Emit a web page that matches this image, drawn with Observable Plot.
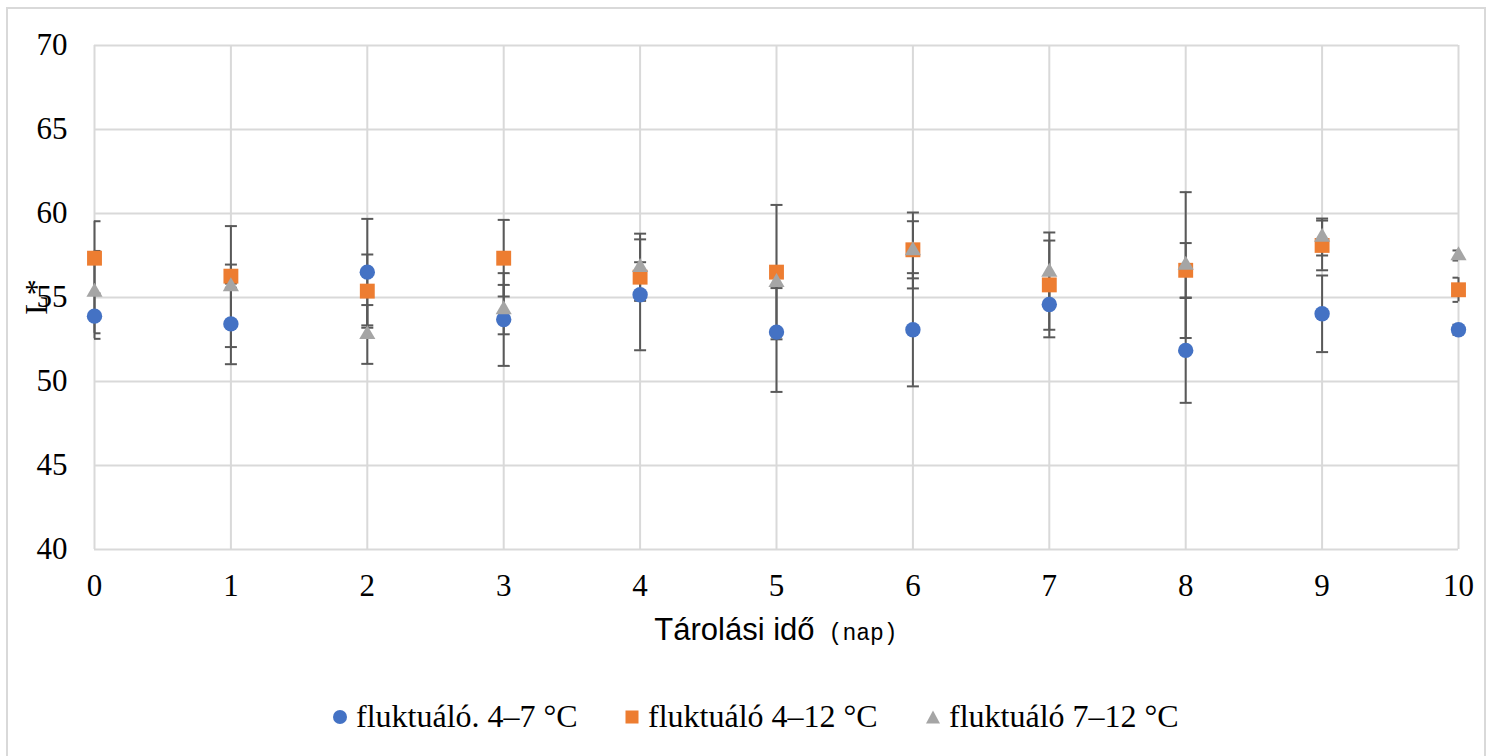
<!DOCTYPE html>
<html>
<head>
<meta charset="utf-8">
<script src="https://cdn.jsdelivr.net/npm/d3@7"></script>
<script src="https://cdn.jsdelivr.net/npm/@observablehq/plot@0.6"></script>
<style>
  html, body { margin: 0; padding: 0; background: #fff; }
  #wrap { position: relative; width: 1491px; height: 756px; overflow: hidden; }
  #border { position: absolute; left: 6px; top: 7px; width: 1480px; height: 760px; border: 2px solid #d9d9d9; box-sizing: border-box; }
  #chart { position: absolute; left: 0; top: 0; }
  #ylab { position: absolute; left: -14px; top: 279px; width: 100px; height: 36px; line-height: 36px; text-align: center;
          font-family: "Liberation Serif", serif; font-size: 32px; color: #000; transform: rotate(-90deg); }
  #xlab { position: absolute; left: 94px; width: 1364px; top: 612px; height: 36px; line-height: 36px; text-align: center;
          font-family: "Liberation Sans", Arial, sans-serif; font-size: 31px; color: #000; white-space: pre; }
  #xlab .unit { font-family: "Liberation Mono", "Courier New", monospace; font-size: 23px; margin-left: 14px; }
  .leg { position: absolute; top: 698px; height: 36px; line-height: 36px; font-family: "Liberation Serif", serif;
         font-size: 32px; color: #000; white-space: nowrap; }
</style>
</head>
<body>
<div id="wrap">
  <div id="border"></div>
  <div id="chart"></div>
  <div id="ylab"></div>
  <div id="xlab"></div>
  <div id="legend"></div>
</div>
<script>
// ---- data ----
const days = [0, 1, 2, 3, 4, 5, 6, 7, 8, 9, 10];
const seriesNames = ["fluktuáló. 4–7 °C", "fluktuáló 4–12 °C", "fluktuáló 7–12 °C"];
const seriesColors = ["#4472C4", "#ED7D31", "#A5A5A5"];
const seriesSymbols = ["circle", "square", "triangle"];

const valuesA = [53.89, 53.43, 56.51, 53.69, 55.16, 52.94, 53.08, 54.58, 51.85, 54.03, 53.08];
const errorsA = [1.35, 2.40, 3.17, 2.76, 3.30, 3.56, 3.37, 1.50, 3.12, 2.28, 0.30];

const valuesB = [57.34, 56.27, 55.38, 57.34, 56.21, 56.51, 57.84, 55.75, 56.62, 58.10, 55.46];
const errorsB = [2.20, 0.69, 2.18, 2.28, 0.89, 4.00, 1.70, 3.12, 1.62, 1.48, 0.72];

const valuesC = [55.32, 55.65, 52.80, 54.28, 56.80, 55.91, 57.80, 56.51, 56.93, 58.60, 57.50];
const errorsC = [2.45, 3.60, 1.75, 1.47, 2.00, 0.35, 2.26, 1.88, 4.34, 1.10, 0.30];

const yTicks = [40, 45, 50, 55, 60, 65, 70];
const xTicks = [0, 1, 2, 3, 4, 5, 6, 7, 8, 9, 10];
const yLabel = "L*";
const xTitle = "Tárolási idő";
const xUnit = "(nap)";

// ---- build table ----
const allValues = [valuesA, valuesB, valuesC];
const allErrors = [errorsA, errorsB, errorsC];
const rows = [];
allValues.forEach((vals, s) => {
  days.forEach((d, i) => rows.push({ series: s, day: d, v: vals[i], lo: vals[i] - allErrors[s][i], hi: vals[i] + allErrors[s][i] }));
});
const capRows = rows.flatMap(r => [{ day: r.day, y: r.lo }, { day: r.day, y: r.hi }]);

const capSymbol = { draw(ctx) { ctx.moveTo(-6, 0); ctx.lineTo(6, 0); } };

const markerR = { circle: 7.7, square: 8.4, triangle: 6.0 };

const marks = [
  Plot.gridY(yTicks, { stroke: "#d9d9d9", strokeOpacity: 1, strokeWidth: 2 }),
  Plot.gridX(xTicks, { stroke: "#d9d9d9", strokeOpacity: 1, strokeWidth: 2 }),
  Plot.axisY({ ticks: yTicks, tickSize: 0, tickPadding: 27, label: null, fontSize: 31 }),
  Plot.axisX({ ticks: xTicks, tickSize: 0, tickPadding: 24, label: null, fontSize: 31, tickFormat: d => String(d) }),
  Plot.ruleX(rows, { x: "day", y1: "lo", y2: "hi", stroke: "#595959", strokeWidth: 2 }),
  Plot.dot(capRows, { x: "day", y: "y", symbol: capSymbol, r: 6, stroke: "#595959", strokeWidth: 2, fill: "none", clip: true })
];
seriesSymbols.forEach((sym, s) => {
  marks.push(Plot.dot(rows.filter(r => r.series === s), {
    x: "day", y: "v", symbol: sym, r: markerR[sym], fill: seriesColors[s], stroke: "none"
  }));
});

const chart = Plot.plot({
  width: 1491,
  height: 660,
  marginTop: 45,
  marginLeft: 94,
  marginRight: 33,
  marginBottom: 111,
  x: { domain: [0, 10] },
  y: { domain: [40, 70] },
  style: { fontFamily: "'Liberation Serif', serif", fontSize: "31px", color: "#000", background: "transparent", overflow: "visible" },
  marks
});
document.getElementById("chart").appendChild(chart);

// ---- labels ----
document.getElementById("ylab").textContent = yLabel;
const xl = document.getElementById("xlab");
xl.appendChild(document.createTextNode(xTitle));
const u = document.createElement("span");
u.className = "unit";
u.textContent = xUnit;
xl.appendChild(u);

// ---- legend ----
const legendLeft = [332, 624, 925];
const leg = document.getElementById("legend");
seriesNames.forEach((name, s) => {
  const item = document.createElement("div");
  item.className = "leg";
  item.style.left = legendLeft[s] + "px";
  const svgNS = "http://www.w3.org/2000/svg";
  const svg = document.createElementNS(svgNS, "svg");
  svg.setAttribute("width", "16");
  svg.setAttribute("height", "16");
  svg.style.verticalAlign = "middle";
  svg.style.marginRight = "8px";
  svg.style.position = "relative";
  svg.style.top = "-3px";
  let shape;
  if (seriesSymbols[s] === "circle") {
    shape = document.createElementNS(svgNS, "circle");
    shape.setAttribute("cx", 8); shape.setAttribute("cy", 8); shape.setAttribute("r", 7);
  } else if (seriesSymbols[s] === "square") {
    shape = document.createElementNS(svgNS, "rect");
    shape.setAttribute("x", 1.5); shape.setAttribute("y", 1.5); shape.setAttribute("width", 13); shape.setAttribute("height", 13);
  } else {
    shape = document.createElementNS(svgNS, "polygon");
    shape.setAttribute("points", "8,1.5 15,14.5 1,14.5");
  }
  shape.setAttribute("fill", seriesColors[s]);
  svg.appendChild(shape);
  item.appendChild(svg);
  item.appendChild(document.createTextNode(name));
  leg.appendChild(item);
});
</script>
</body>
</html>
